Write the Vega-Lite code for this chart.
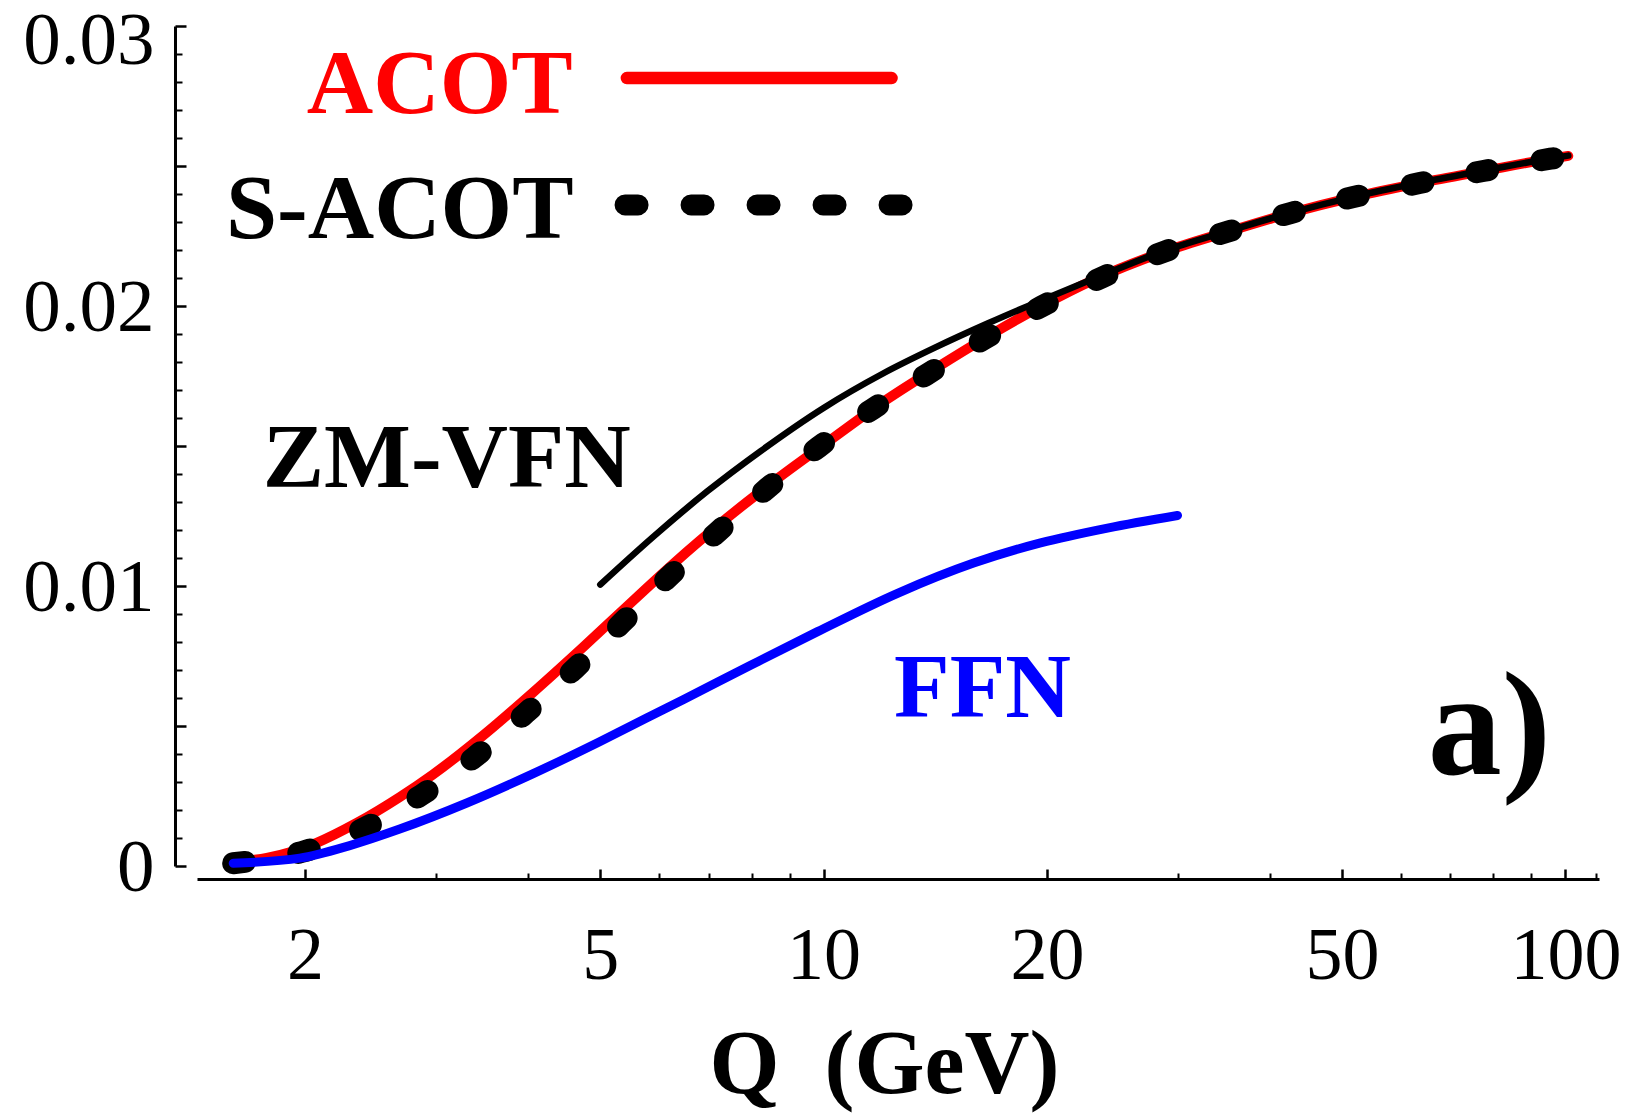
{
  "$schema": "https://vega.github.io/schema/vega-lite/v6.json",
  "width": 1402,
  "height": 840,
  "autosize": "none",
  "padding": {"left": 197, "top": 26, "right": 36, "bottom": 248},
  "background": "white",
  "config": {"view": {"stroke": null}, "axis": {"grid": false}},
  "datasets": {
    "curves": [
      {"s": "ACOT", "q": 1.6, "v": 0.00014},
      {"s": "ACOT", "q": 1.776, "v": 0.00029},
      {"s": "ACOT", "q": 2.073, "v": 0.00083},
      {"s": "ACOT", "q": 2.348, "v": 0.00154},
      {"s": "ACOT", "q": 2.683, "v": 0.00246},
      {"s": "ACOT", "q": 2.972, "v": 0.00326},
      {"s": "ACOT", "q": 3.47, "v": 0.00465},
      {"s": "ACOT", "q": 4.054, "v": 0.00619},
      {"s": "ACOT", "q": 4.733, "v": 0.0078},
      {"s": "ACOT", "q": 5.311, "v": 0.00903},
      {"s": "ACOT", "q": 6.259, "v": 0.01077},
      {"s": "ACOT", "q": 7.357, "v": 0.01236},
      {"s": "ACOT", "q": 8.67, "v": 0.01384},
      {"s": "ACOT", "q": 10.22, "v": 0.01522},
      {"s": "ACOT", "q": 12.01, "v": 0.01656},
      {"s": "ACOT", "q": 14.15, "v": 0.01777},
      {"s": "ACOT", "q": 16.69, "v": 0.01893},
      {"s": "ACOT", "q": 19.61, "v": 0.01998},
      {"s": "ACOT", "q": 23.11, "v": 0.02093},
      {"s": "ACOT", "q": 28.72, "v": 0.02193},
      {"s": "ACOT", "q": 34.93, "v": 0.02264},
      {"s": "ACOT", "q": 42.61, "v": 0.02332},
      {"s": "ACOT", "q": 51.8, "v": 0.02389},
      {"s": "ACOT", "q": 63.6, "v": 0.02439},
      {"s": "ACOT", "q": 77.5, "v": 0.02482},
      {"s": "ACOT", "q": 95.5, "v": 0.02526},
      {"s": "ACOT", "q": 100.9, "v": 0.02536},
      {"s": "S-ACOT", "q": 1.6, "v": 0.0001},
      {"s": "S-ACOT", "q": 1.979, "v": 0.0005},
      {"s": "S-ACOT", "q": 2.406, "v": 0.00136},
      {"s": "S-ACOT", "q": 2.872, "v": 0.00254},
      {"s": "S-ACOT", "q": 3.385, "v": 0.00389},
      {"s": "S-ACOT", "q": 3.967, "v": 0.00546},
      {"s": "S-ACOT", "q": 4.617, "v": 0.00704},
      {"s": "S-ACOT", "q": 5.344, "v": 0.00868},
      {"s": "S-ACOT", "q": 6.181, "v": 0.01032},
      {"s": "S-ACOT", "q": 7.198, "v": 0.01193},
      {"s": "S-ACOT", "q": 8.405, "v": 0.0135},
      {"s": "S-ACOT", "q": 9.846, "v": 0.01496},
      {"s": "S-ACOT", "q": 11.64, "v": 0.01632},
      {"s": "S-ACOT", "q": 13.77, "v": 0.01755},
      {"s": "S-ACOT", "q": 16.43, "v": 0.01881},
      {"s": "S-ACOT", "q": 19.67, "v": 0.01998},
      {"s": "S-ACOT", "q": 23.77, "v": 0.02103},
      {"s": "S-ACOT", "q": 28.72, "v": 0.02193},
      {"s": "S-ACOT", "q": 34.93, "v": 0.02264},
      {"s": "S-ACOT", "q": 42.61, "v": 0.02332},
      {"s": "S-ACOT", "q": 51.8, "v": 0.02389},
      {"s": "S-ACOT", "q": 63.6, "v": 0.02439},
      {"s": "S-ACOT", "q": 77.5, "v": 0.02482},
      {"s": "S-ACOT", "q": 95.5, "v": 0.02526},
      {"s": "S-ACOT", "q": 100.9, "v": 0.02536},
      {"s": "ZM-VFN", "q": 5.0, "v": 0.01005},
      {"s": "ZM-VFN", "q": 5.918, "v": 0.0118},
      {"s": "ZM-VFN", "q": 6.977, "v": 0.01339},
      {"s": "ZM-VFN", "q": 8.226, "v": 0.01482},
      {"s": "ZM-VFN", "q": 10.0, "v": 0.01636},
      {"s": "ZM-VFN", "q": 12.01, "v": 0.01758},
      {"s": "ZM-VFN", "q": 14.15, "v": 0.01852},
      {"s": "ZM-VFN", "q": 16.69, "v": 0.01939},
      {"s": "ZM-VFN", "q": 19.61, "v": 0.02019},
      {"s": "ZM-VFN", "q": 23.55, "v": 0.02106},
      {"s": "ZM-VFN", "q": 28.72, "v": 0.02196},
      {"s": "ZM-VFN", "q": 34.93, "v": 0.02266},
      {"s": "ZM-VFN", "q": 42.61, "v": 0.02333},
      {"s": "ZM-VFN", "q": 51.8, "v": 0.0239},
      {"s": "ZM-VFN", "q": 63.6, "v": 0.0244},
      {"s": "ZM-VFN", "q": 77.5, "v": 0.02483},
      {"s": "ZM-VFN", "q": 95.5, "v": 0.02527},
      {"s": "ZM-VFN", "q": 100.9, "v": 0.02537},
      {"s": "FFN", "q": 1.6, "v": 0.0001},
      {"s": "FFN", "q": 1.967, "v": 0.00028},
      {"s": "FFN", "q": 2.297, "v": 0.00073},
      {"s": "FFN", "q": 2.683, "v": 0.00132},
      {"s": "FFN", "q": 3.304, "v": 0.00225},
      {"s": "FFN", "q": 4.054, "v": 0.00329},
      {"s": "FFN", "q": 4.99, "v": 0.00444},
      {"s": "FFN", "q": 5.79, "v": 0.0053},
      {"s": "FFN", "q": 6.476, "v": 0.00595},
      {"s": "FFN", "q": 7.973, "v": 0.00717},
      {"s": "FFN", "q": 9.815, "v": 0.00837},
      {"s": "FFN", "q": 12.58, "v": 0.00974},
      {"s": "FFN", "q": 15.93, "v": 0.01082},
      {"s": "FFN", "q": 19.61, "v": 0.01154},
      {"s": "FFN", "q": 24.14, "v": 0.01207},
      {"s": "FFN", "q": 30.0, "v": 0.01252},
      {"s": "ACOT key", "q": 5.43, "v": 0.02814},
      {"s": "ACOT key", "q": 12.35, "v": 0.02814},
      {"s": "S-ACOT key", "q": 5.4, "v": 0.02361},
      {"s": "S-ACOT key", "q": 12.76, "v": 0.02361}
    ],
    "notes": [
      {"t": "ACOT", "q": 3.038, "v": 0.02689},
      {"t": "S-ACOT", "q": 2.683, "v": 0.02243},
      {"t": "ZM-VFN", "q": 3.104, "v": 0.01354},
      {"t": "FFN", "q": 16.38, "v": 0.00532},
      {"t": "a)", "q": 79.0, "v": 0.00329}
    ]
  },
  "layer": [
    {
      "data": {"name": "curves"},
      "transform": [{"filter": "datum.s == 'ACOT'"}],
      "mark": {"type": "line", "color": "#ff0000", "strokeWidth": 10, "strokeCap": "round", "interpolate": "monotone"},
      "encoding": {
        "x": {"field": "q", "type": "quantitative", "scale": {"type": "log", "domain": [1.43, 111], "nice": false},
          "axis": {"orient": "bottom", "values": [2, 5, 10, 20, 50, 100], "format": "d", "tickSize": -10, "tickWidth": 2.5, "tickColor": "black",
            "domainColor": "black", "domainWidth": 3, "offset": 13,
            "labelFont": "Liberation Serif", "labelFontSize": 74, "labelColor": "black", "labelPadding": 51, "labelBaseline": "top",
            "labelOverlap": false, "labelFlush": false,
            "title": "Q\u00a0\u00a0(GeV)", "titleFont": "Liberation Serif", "titleFontWeight": "bold", "titleFontSize": 90, "titleColor": "black",
            "titleX": 687, "titleY": 213, "titleBaseline": "alphabetic", "titleAlign": "center"}},
        "y": {"field": "v", "type": "quantitative", "scale": {"domain": [0, 0.03], "nice": false, "zero": false},
          "axis": {"orient": "left", "values": [0, 0.005, 0.01, 0.015, 0.02, 0.025, 0.03],
            "labelExpr": "datum.value == 0 ? '0' : (abs(datum.value*100 - round(datum.value*100)) < 0.000001 ? format(datum.value, '.2f') : '')",
            "tickSize": -11, "tickWidth": 2.5, "tickColor": "black", "domainColor": "black", "domainWidth": 3, "offset": 22,
            "labelFont": "Liberation Serif", "labelFontSize": 75, "labelColor": "black", "labelPadding": 32, "labelBaseline": "middle",
            "labelAlign": "right", "labelOffset": {"condition": {"test": "datum.value > 0.029", "value": 14}, "value": 1.5},
            "labelOverlap": false, "labelFlush": false, "title": null}}
      }
    },
    {
      "data": {"name": "curves"},
      "mark": {"type": "point", "opacity": 0},
      "encoding": {
        "x": {"field": "q", "type": "quantitative", "scale": {"type": "log", "domain": [1.43, 111], "nice": false},
          "axis": {"orient": "bottom", "values": [3, 4, 6, 7, 8, 9, 30, 40, 60, 70, 80, 90, 110], "tickSize": -6, "tickWidth": 2, "tickColor": "black",
            "labels": false, "domain": false, "offset": 13, "title": null}},
        "y": {"field": "v", "type": "quantitative", "scale": {"domain": [0, 0.03], "nice": false, "zero": false},
          "axis": {"orient": "left", "values": [0.001, 0.002, 0.003, 0.004, 0.006, 0.007, 0.008, 0.009, 0.011, 0.012, 0.013, 0.014, 0.016, 0.017, 0.018, 0.019, 0.021, 0.022, 0.023, 0.024, 0.026, 0.027, 0.028, 0.029],
            "tickSize": -7, "tickWidth": 2, "tickColor": "black", "labels": false, "domain": false, "offset": 22, "title": null}}
      }
    },
    {
      "data": {"name": "curves"},
      "transform": [{"filter": "datum.s == 'ZM-VFN'"}],
      "mark": {"type": "line", "color": "black", "strokeWidth": 6.5, "strokeCap": "round", "interpolate": "monotone"},
      "encoding": {
        "x": {"field": "q", "type": "quantitative", "scale": {"type": "log", "domain": [1.43, 111], "nice": false}, "axis": null},
        "y": {"field": "v", "type": "quantitative", "scale": {"domain": [0, 0.03], "nice": false, "zero": false}, "axis": null}
      }
    },
    {
      "data": {"name": "curves"},
      "transform": [{"filter": "datum.s == 'S-ACOT'"}],
      "mark": {"type": "line", "color": "black", "strokeWidth": 22, "strokeCap": "round", "strokeDash": [12, 54], "interpolate": "monotone"},
      "encoding": {
        "x": {"field": "q", "type": "quantitative", "scale": {"type": "log", "domain": [1.43, 111], "nice": false}, "axis": null},
        "y": {"field": "v", "type": "quantitative", "scale": {"domain": [0, 0.03], "nice": false, "zero": false}, "axis": null}
      }
    },
    {
      "data": {"name": "curves"},
      "transform": [{"filter": "datum.s == 'FFN'"}],
      "mark": {"type": "line", "color": "#0000ff", "strokeWidth": 9, "strokeCap": "round", "interpolate": "monotone"},
      "encoding": {
        "x": {"field": "q", "type": "quantitative", "scale": {"type": "log", "domain": [1.43, 111], "nice": false}, "axis": null},
        "y": {"field": "v", "type": "quantitative", "scale": {"domain": [0, 0.03], "nice": false, "zero": false}, "axis": null}
      }
    },
    {
      "data": {"name": "curves"},
      "transform": [{"filter": "datum.s == 'ACOT key'"}],
      "mark": {"type": "line", "color": "#ff0000", "strokeWidth": 12.5, "strokeCap": "round"},
      "encoding": {
        "x": {"field": "q", "type": "quantitative", "scale": {"type": "log", "domain": [1.43, 111], "nice": false}, "axis": null},
        "y": {"field": "v", "type": "quantitative", "scale": {"domain": [0, 0.03], "nice": false, "zero": false}, "axis": null}
      }
    },
    {
      "data": {"name": "curves"},
      "transform": [{"filter": "datum.s == 'S-ACOT key'"}],
      "mark": {"type": "line", "color": "black", "strokeWidth": 21, "strokeCap": "round", "strokeDash": [13, 53]},
      "encoding": {
        "x": {"field": "q", "type": "quantitative", "scale": {"type": "log", "domain": [1.43, 111], "nice": false}, "axis": null},
        "y": {"field": "v", "type": "quantitative", "scale": {"domain": [0, 0.03], "nice": false, "zero": false}, "axis": null}
      }
    },
    {
      "data": {"name": "notes"},
      "transform": [{"filter": "datum.t == 'ACOT'"}],
      "mark": {"type": "text", "font": "Liberation Serif", "fontWeight": "bold", "fontSize": 92, "align": "center", "baseline": "alphabetic", "color": "#ff0000"},
      "encoding": {
        "x": {"field": "q", "type": "quantitative", "scale": {"type": "log", "domain": [1.43, 111], "nice": false}, "axis": null},
        "y": {"field": "v", "type": "quantitative", "scale": {"domain": [0, 0.03], "nice": false, "zero": false}, "axis": null},
        "text": {"field": "t"}
      }
    },
    {
      "data": {"name": "notes"},
      "transform": [{"filter": "datum.t == 'S-ACOT' || datum.t == 'ZM-VFN'"}],
      "mark": {"type": "text", "font": "Liberation Serif", "fontWeight": "bold", "fontSize": 92, "align": "center", "baseline": "alphabetic", "color": "black"},
      "encoding": {
        "x": {"field": "q", "type": "quantitative", "scale": {"type": "log", "domain": [1.43, 111], "nice": false}, "axis": null},
        "y": {"field": "v", "type": "quantitative", "scale": {"domain": [0, 0.03], "nice": false, "zero": false}, "axis": null},
        "text": {"field": "t"}
      }
    },
    {
      "data": {"name": "notes"},
      "transform": [{"filter": "datum.t == 'FFN'"}],
      "mark": {"type": "text", "font": "Liberation Serif", "fontWeight": "bold", "fontSize": 91, "align": "center", "baseline": "alphabetic", "color": "#0000ff"},
      "encoding": {
        "x": {"field": "q", "type": "quantitative", "scale": {"type": "log", "domain": [1.43, 111], "nice": false}, "axis": null},
        "y": {"field": "v", "type": "quantitative", "scale": {"domain": [0, 0.03], "nice": false, "zero": false}, "axis": null},
        "text": {"field": "t"}
      }
    },
    {
      "data": {"name": "notes"},
      "transform": [{"filter": "datum.t == 'a)'"}],
      "mark": {"type": "text", "font": "Liberation Serif", "fontWeight": "bold", "fontSize": 148, "align": "center", "baseline": "alphabetic", "color": "black"},
      "encoding": {
        "x": {"field": "q", "type": "quantitative", "scale": {"type": "log", "domain": [1.43, 111], "nice": false}, "axis": null},
        "y": {"field": "v", "type": "quantitative", "scale": {"domain": [0, 0.03], "nice": false, "zero": false}, "axis": null},
        "text": {"field": "t"}
      }
    }
  ],
  "resolve": {"axis": {"x": "independent", "y": "independent"}}
}
